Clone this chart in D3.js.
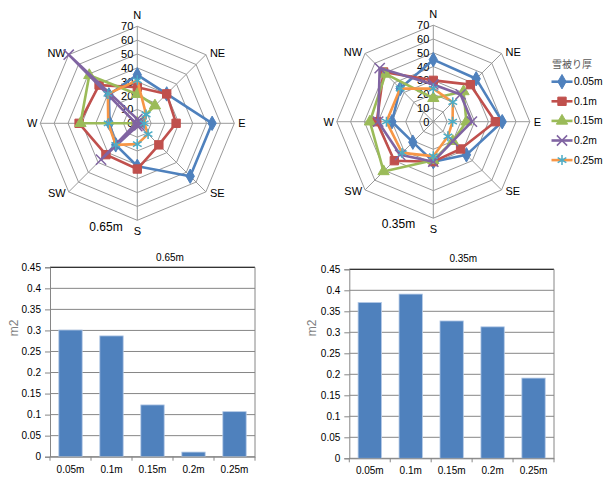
<!DOCTYPE html>
<html>
<head>
<meta charset="utf-8">
<script src="https://cdn.jsdelivr.net/npm/d3@7"></script>
<style>
  html, body { margin: 0; padding: 0; background: #fff; }
  svg { display: block; font-family: "Liberation Sans", Arial, sans-serif; }
</style>
</head>
<body>
<svg id="chart" width="604" height="477"></svg>
<script>
// Wind directions (radar axes) and snow-cover thickness series
const directions = ["N", "NE", "E", "SE", "S", "SW", "W", "NW"];
const seriesNames = ["0.05m", "0.1m", "0.15m", "0.2m", "0.25m"];
const ringTicks = [0, 10, 20, 30, 40, 50, 60, 70];

// Depth 0.65m, one array per series (N, NE, E, SE, S, SW, W, NW)
const r65_005 = [35, 30, 54, 54, 31, 22, 20, 29];
const r65_010 = [26, 30, 28, 22, 33, 32, 42, 39];
const r65_015 = [21, 18, 0, 0, 0, 0, 41, 49];
const r65_020 = [3, 2, 2, 2, 2, 37, 1, 70];
const r65_025 = [31, 9, 5, 11, 15, 22, 21, 30];

// Depth 0.35m
const r35_005 = [45, 44, 50, 34, 29, 21, 30, 34];
const r35_010 = [30, 38, 45, 28, 29, 40, 41, 51];
const r35_015 = [17, 31, 24, 20, 28, 51, 46, 49];
const r35_020 = [27, 28, 28, 20, 29, 34, 40, 55];
const r35_025 = [24, 20, 14, 15, 25, 32, 34, 34];

// Areas (m2) per thickness
const barCats = ["0.05m", "0.1m", "0.15m", "0.2m", "0.25m"];
const bar65 = [0.301, 0.287, 0.123, 0.011, 0.107];
const bar35 = [0.371, 0.391, 0.327, 0.313, 0.191];
const barTicks = [0, 0.05, 0.1, 0.15, 0.2, 0.25, 0.3, 0.35, 0.4, 0.45];

const lineColors = ["#4F81BD", "#C0504D", "#9BBB59", "#8064A2", "#F79646"];
const markerColors = ["#4F81BD", "#C0504D", "#9BBB59", "#8064A2", "#4BACC6"];
const markerTypes = [
  { type: d3.symbolDiamond, size: 60, fill: true },
  { type: d3.symbolSquare, size: 70, fill: true },
  { type: d3.symbolTriangle, size: 55, fill: true },
  { type: d3.symbolX, size: 70, fill: false },
  { type: d3.symbolAsterisk, size: 70, fill: false }
];

const svg = d3.select("#chart");

function drawMarker(g, i, x, y) {
  const m = markerTypes[i];
  const p = g.append("path")
    .attr("d", d3.symbol().type(m.type).size(m.size)())
    .attr("transform", `translate(${x},${y})`);
  if (m.fill) p.attr("fill", markerColors[i]).attr("stroke", markerColors[i]).attr("stroke-width", 1);
  else p.attr("fill", "none").attr("stroke", markerColors[i]).attr("stroke-width", 1.5);
}

function radar(cx, cy, R, seriesData, caption, capX, capY) {
  const g = svg.append("g");
  const r = d3.scaleLinear().domain([0, 70]).range([0, R]);
  const angle = d3.scalePoint().domain(directions).range([0, 2 * Math.PI * 7 / 8]);
  const pt = (dir, v) => {
    const a = angle(dir);
    return [cx + r(v) * Math.sin(a), cy - r(v) * Math.cos(a)];
  };

  // octagonal rings
  ringTicks.slice(1).forEach(t => {
    g.append("path")
      .attr("d", d3.line()(directions.map(d => pt(d, t))) + "Z")
      .attr("fill", "none").attr("stroke", "#9a9a9a").attr("stroke-width", 1);
  });
  // spokes
  directions.forEach(d => {
    const [x, y] = pt(d, 70);
    g.append("line").attr("x1", cx).attr("y1", cy).attr("x2", x).attr("y2", y)
      .attr("stroke", "#9a9a9a").attr("stroke-width", 1);
  });
  // direction labels
  directions.forEach(d => {
    const a = angle(d);
    const dx = Math.sin(a), dy = -Math.cos(a);
    const [x, y] = pt(d, 70);
    let anchor = "middle", ox = 0, oy = 0;
    if (dx > 0.1) { anchor = "start"; ox = 4; oy = dy * 2; }
    else if (dx < -0.1) { anchor = "end"; ox = -3; oy = dy * 2; }
    else { oy = dy * 11; }
    g.append("text").attr("x", x + ox).attr("y", y + oy)
      .attr("text-anchor", anchor).attr("dominant-baseline", "central")
      .attr("font-size", 11).attr("fill", "#000").text(d);
  });
  // ring value labels
  ringTicks.forEach(t => {
    g.append("text").attr("x", cx - 4).attr("y", cy - r(t))
      .attr("text-anchor", "end").attr("dominant-baseline", "central")
      .attr("font-size", 11).attr("fill", "#000").text(t);
  });
  // series
  seriesData.forEach((vals, i) => {
    const pts = directions.map((d, k) => pt(d, vals[k]));
    g.append("path")
      .attr("d", d3.line()(pts) + "Z")
      .attr("fill", "none").attr("stroke", lineColors[i])
      .attr("stroke-width", 2.6).attr("stroke-linejoin", "round");
    pts.forEach(([x, y]) => drawMarker(g, i, x, y));
  });
  g.append("text").attr("x", capX).attr("y", capY)
    .attr("text-anchor", "middle").attr("dominant-baseline", "central")
    .attr("font-size", 12).attr("fill", "#000").text(caption);
}

radar(137.3, 123.3, 97, [r65_005, r65_010, r65_015, r65_020, r65_025], "0.65m", 106, 226.5);
radar(433.3, 121.7, 96.5, [r35_005, r35_010, r35_015, r35_020, r35_025], "0.35m", 398.5, 224.3);

// legend
const lg = svg.append("g");
lg.append("text").attr("x", 572).attr("y", 63).attr("text-anchor", "middle")
  .attr("dominant-baseline", "central").attr("font-size", 10)
  .attr("font-family", "'Noto Sans CJK JP', sans-serif").attr("fill", "#595959").text("雪被り厚");
seriesNames.forEach((s, i) => {
  const y = 81.7 + i * 19.6;
  lg.append("line").attr("x1", 551.5).attr("x2", 572.5).attr("y1", y).attr("y2", y)
    .attr("stroke", lineColors[i]).attr("stroke-width", 2.6);
  drawMarker(lg, i, 562, y);
  lg.append("text").attr("x", 574).attr("y", y).attr("dominant-baseline", "central")
    .attr("font-size", 10.3).attr("fill", "#000").text(s);
});

function barChart(x0, x1, y0, y1, values, title, titleX, titleY, m2X) {
  const g = svg.append("g");
  const x = d3.scaleBand().domain(barCats).range([x0, x1]).paddingInner(0.43).paddingOuter(0.215);
  const xb = d3.scaleBand().domain(barCats).range([x0, x1]);
  const y = d3.scaleLinear().domain([0, 0.45]).range([y1, y0]);

  // gridlines
  barTicks.forEach(t => {
    g.append("line").attr("x1", x0).attr("x2", x1).attr("y1", y(t)).attr("y2", y(t))
      .attr("stroke", "#868686").attr("stroke-width", 1);
  });
  g.append("line").attr("x1", x0).attr("x2", x1).attr("y1", y0).attr("y2", y0)
    .attr("stroke", "#333").attr("stroke-width", 1.2);
  g.append("line").attr("x1", x1).attr("x2", x1).attr("y1", y0).attr("y2", y1)
    .attr("stroke", "#868686").attr("stroke-width", 1);

  // bars
  g.selectAll("rect.bar").data(values).join("rect").attr("class", "bar")
    .attr("x", (d, i) => x(barCats[i])).attr("width", x.bandwidth())
    .attr("y", d => y(d)).attr("height", d => y(0) - y(d))
    .attr("fill", "#4F81BD").attr("stroke", "#b4c9e6").attr("stroke-width", 0.8);

  // y axis
  const ya = g.append("g").attr("transform", `translate(${x0},0)`)
    .call(d3.axisLeft(y).tickValues(barTicks).tickSize(5).tickPadding(4)
      .tickFormat(d => d3.format("~g")(+d.toFixed(2))));
  ya.select(".domain").attr("stroke", "#868686");
  ya.selectAll(".tick line").attr("stroke", "#868686");
  ya.selectAll("text").attr("font-size", 10).attr("fill", "#000")
    .attr("font-family", "'Liberation Sans', Arial, sans-serif");

  // x axis with ticks at category boundaries
  const xa = g.append("g").attr("transform", `translate(0,${y1})`)
    .call(d3.axisBottom(x).tickSize(0).tickPadding(9));
  xa.select(".domain").attr("stroke", "#868686");
  xa.selectAll("text").attr("font-size", 10).attr("fill", "#000")
    .attr("font-family", "'Liberation Sans', Arial, sans-serif");
  barCats.concat([null]).forEach((c, i) => {
    const bx = c === null ? x1 : xb(c);
    g.append("line").attr("x1", bx).attr("x2", bx).attr("y1", y1).attr("y2", y1 + 4)
      .attr("stroke", "#868686");
  });

  g.append("text").attr("x", titleX).attr("y", titleY).attr("text-anchor", "middle")
    .attr("dominant-baseline", "central").attr("font-size", 10).attr("fill", "#000").text(title);
  g.append("text").attr("transform", `translate(${m2X},328) rotate(-90)`)
    .attr("text-anchor", "middle").attr("dominant-baseline", "central")
    .attr("font-size", 12).attr("fill", "#7f7f7f").text("m2");
}

barChart(50, 255, 267.3, 456.7, bar65, "0.65m", 170, 257.3, 13.5);
barChart(349.3, 554, 269.3, 458.3, bar35, "0.35m", 463.3, 258.3, 311.7);
</script>
</body>
</html>
